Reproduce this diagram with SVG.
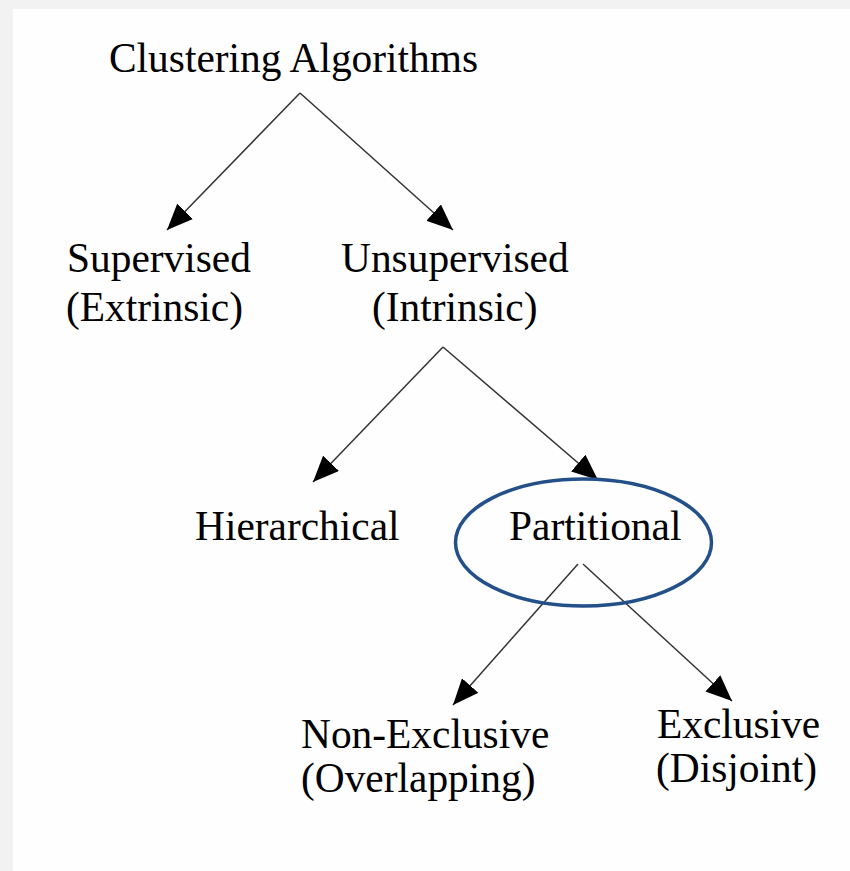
<svg xmlns="http://www.w3.org/2000/svg" width="850" height="871" viewBox="0 0 850 871">
  <style>
    .lbl { font-family: "Liberation Serif", "Times New Roman", serif; font-size: 41.4px; fill: #000; }
    .edge { stroke: #333; stroke-width: 1.5; fill: none; marker-end: url(#arrow); }
  </style>
  <defs>
    <marker id="arrow" markerUnits="userSpaceOnUse" markerWidth="26" markerHeight="22" refX="26" refY="11" orient="auto">
      <path d="M0,0 L26,11 L0,22 z" fill="#000"/>
    </marker>
  </defs>

  <!-- page frame -->
  <rect x="0" y="0" width="850" height="871" fill="#f2f2f2"/>
  <rect x="13" y="9" width="837" height="862" fill="#fefefe"/>

  <!-- connectors -->
  <g id="connectors">
    <line class="edge" x1="300" y1="93" x2="167" y2="230"/>
    <line class="edge" x1="300" y1="93" x2="453" y2="230"/>
    <line class="edge" x1="443" y1="347" x2="313" y2="482"/>
    <line class="edge" x1="443" y1="347" x2="598" y2="480"/>
    <line class="edge" x1="578" y1="564" x2="453" y2="705"/>
    <line class="edge" x1="583" y1="564" x2="732" y2="701"/>
  </g>

  <g id="root">
    <text class="lbl" x="109" y="72">Clustering Algorithms</text>
  </g>
  <g id="supervised">
    <text class="lbl" x="67" y="272">Supervised</text>
    <text class="lbl" x="66" y="321">(Extrinsic)</text>
  </g>
  <g id="unsupervised">
    <text class="lbl" x="341" y="272">Unsupervised</text>
    <text class="lbl" x="372" y="321">(Intrinsic)</text>
  </g>
  <g id="hierarchical">
    <text class="lbl" x="195" y="540">Hierarchical</text>
  </g>
  <g id="partitional">
    <text class="lbl" x="509" y="540">Partitional</text>
    <ellipse cx="583.5" cy="542.5" rx="128" ry="63.5" fill="none" stroke="#24508a" stroke-width="3.5"/>
  </g>
  <g id="non-exclusive">
    <text class="lbl" x="301" y="748">Non-Exclusive</text>
    <text class="lbl" x="301" y="792">(Overlapping)</text>
  </g>
  <g id="exclusive">
    <text class="lbl" x="657" y="738">Exclusive</text>
    <text class="lbl" x="656" y="782">(Disjoint)</text>
  </g>
</svg>
